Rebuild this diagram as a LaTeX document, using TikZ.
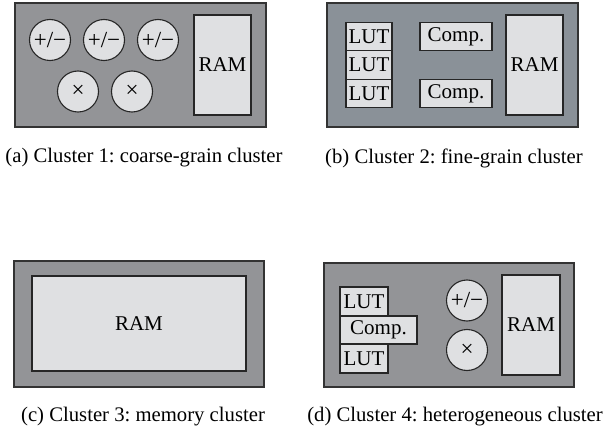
\documentclass[tikz,border=0pt]{standalone}
\usepackage{fontspec}
\setmainfont{Liberation Serif}
\frenchspacing
\begin{document}
\begin{tikzpicture}[x=1pt,y=-1pt,
  outerbox/.style={draw=black!80,line width=1.6pt,fill=#1,inner sep=0pt},
  outerbox/.default=outgray,
  part/.style={draw=black!85,line width=1.1pt,fill=ingray,inner sep=0pt,font=\fontsize{21}{23}\selectfont},
  unit/.style={part,circle,minimum size=41pt,font=\fontsize{23}{25}\selectfont},
  captext/.style={font=\fontsize{20.7}{23}\selectfont,inner sep=0pt}]
\definecolor{outgray}{HTML}{939497}
\definecolor{outblue}{HTML}{8A9198}
\definecolor{ingray}{HTML}{DFE0E2}
\useasboundingbox (0,0) rectangle (616,433);
% (a)
\node[outerbox,minimum width=251pt,minimum height=124pt] (A) at (140.5,65) {};
\node[unit] (a1) at (50,40) {+/−};
\node[unit] (a2) at (104,40) {+/−};
\node[unit] (a3) at (158,40) {+/−};
\node[unit] (am1) at (78,91.5) {×};
\node[unit] (am2) at (132,91.5) {×};
\node[part,minimum width=57pt,minimum height=100pt] (aram) at (222.5,65) {RAM};
\node[captext] (capa) at (144,158) {(a) Cluster 1: coarse-grain cluster};
% (b)
\node[outerbox=outblue,minimum width=251pt,minimum height=124pt] (B) at (452.5,65) {};
\node[part,minimum width=46pt,minimum height=28.7pt] (bl1) at (369,36.5) {LUT};
\node[part,minimum width=46pt,minimum height=28.7pt] (bl2) at (369,65) {LUT};
\node[part,minimum width=46pt,minimum height=28.7pt] (bl3) at (369,93.5) {LUT};
\node[part,minimum width=72pt,minimum height=28.7pt] (bc1) at (456,36.5) {Comp.};
\node[part,minimum width=72pt,minimum height=28.7pt] (bc2) at (456,93.5) {Comp.};
\node[part,minimum width=57pt,minimum height=100pt] (bram) at (534.5,65) {RAM};
\node[captext] (capb) at (454,158) {(b) Cluster 2: fine-grain cluster};
% (c)
\node[outerbox,minimum width=250pt,minimum height=126pt] (C) at (139,324) {};
\node[part,minimum width=214pt,minimum height=95pt] (cram) at (139,323.5) {RAM};
\node[captext] (capc) at (143,417) {(c) Cluster 3: memory cluster};
% (d)
\node[outerbox,minimum width=250pt,minimum height=124pt] (D) at (449,325) {};
\node[part,minimum width=48pt,minimum height=29pt] (dl1) at (364,301.5) {LUT};
\node[part,minimum width=48pt,minimum height=29pt] (dl2) at (364,358.5) {LUT};
\node[part,minimum width=77pt,minimum height=28pt] (dc) at (378.5,330) {Comp.};
\node[unit] (dadd) at (467,300.5) {+/−};
\node[unit] (dmul) at (467,350) {×};
\node[part,minimum width=58pt,minimum height=100pt] (dram) at (531,325) {RAM};
\node[captext] (capd) at (455,417) {(d) Cluster 4: heterogeneous cluster};
\end{tikzpicture}
\end{document}
